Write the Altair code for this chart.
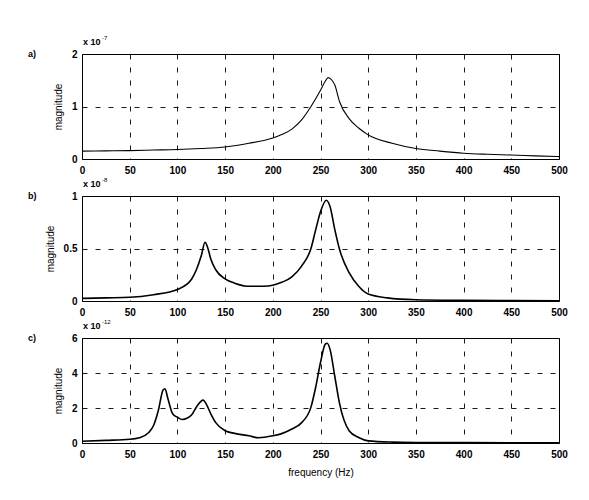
import altair as alt
import pandas as pd

# ---- data ----
freq_a = [0, 25, 50, 75, 100, 125, 150, 175, 200, 210, 220, 230, 240, 250, 255, 258,
          262, 265, 270, 280, 290, 300, 325, 350, 375, 400, 425, 450, 475, 500]
mag_a = [0.15, 0.155, 0.16, 0.17, 0.18, 0.20, 0.23, 0.30, 0.40, 0.47, 0.57, 0.74, 1.0, 1.31, 1.48, 1.55,
         1.50, 1.41, 1.09, 0.77, 0.59, 0.46, 0.30, 0.20, 0.15, 0.11, 0.09, 0.076, 0.06, 0.045]

freq_b = [0, 25, 50, 75, 100, 110, 115, 120, 125, 129, 132, 135, 140, 150, 160, 175, 190,
          200, 210, 220, 230, 240, 245, 250, 256, 260, 265, 270, 280, 290, 300, 320, 350, 400, 450, 500]
mag_b = [0.025, 0.03, 0.035, 0.06, 0.11, 0.16, 0.21, 0.30, 0.43, 0.56, 0.50, 0.40, 0.30, 0.21, 0.17, 0.14, 0.14,
         0.15, 0.18, 0.23, 0.33, 0.50, 0.68, 0.85, 0.96, 0.90, 0.68, 0.49, 0.27, 0.14, 0.066, 0.03, 0.012, 0.006, 0.004, 0.003]

freq_c = [0, 25, 50, 60, 70, 75, 80, 85, 87, 90, 95, 100, 105, 110, 115, 120, 127, 130, 135, 140,
          150, 160, 175, 185, 200, 210, 220, 230, 240, 245, 250, 255, 257, 260, 265, 270, 280, 290,
          300, 325, 350, 400, 500]
mag_c = [0.1, 0.15, 0.21, 0.3, 0.6, 1.0, 1.86, 3.03, 3.1, 2.54, 1.67, 1.47, 1.34, 1.41, 1.61, 2.06, 2.45, 2.25, 1.67, 1.18,
         0.70, 0.55, 0.41, 0.30, 0.41, 0.55, 0.80, 1.15, 2.05, 3.2, 4.6, 5.65, 5.7, 5.35, 3.8, 2.25, 0.70, 0.31,
         0.12, 0.05, 0.03, 0.02, 0.01]

panel_labels = ["a)", "b)", "c)"]
exponents = ["-7", "-8", "-12"]
y_domains = [[0, 2], [0, 1], [0, 6]]
y_ticks = [[0, 1, 2], [0, 0.5, 1], [0, 2, 4, 6]]
x_ticks = [0, 50, 100, 150, 200, 250, 300, 350, 400, 450, 500]
line_widths = [1.1, 1.6, 1.6]

FONT = "Liberation Sans"
GRID = dict(grid=True, gridColor="black", gridDash=[5, 8], gridOpacity=1, gridWidth=0.9,
            domain=False, ticks=False, labelFlush=False, labelFont=FONT, labelFontSize=10,
            labelFontWeight="bold", labelColor="black", titleFont=FONT, titleFontSize=10,
            titleFontWeight="normal", titleColor="black")


def panel(i, f, m, show_xtitle):
    df = pd.DataFrame({"f": f, "m": m})
    if show_xtitle:
        xaxis = alt.Axis(values=x_ticks, title="frequency (Hz)", labelPadding=6, titlePadding=8, **GRID)
    else:
        xaxis = alt.Axis(values=x_ticks, title=None, labelPadding=6, **GRID)
    yaxis = alt.Axis(values=y_ticks[i], title="magnitude", labelExpr="'' + datum.value",
                     labelPadding=5, titlePadding=8, **GRID)
    line = alt.Chart(df).mark_line(color="black", strokeWidth=line_widths[i],
                                   interpolate="monotone").encode(
        x=alt.X("f:Q", scale=alt.Scale(domain=[0, 500], nice=False, zero=False), axis=xaxis),
        y=alt.Y("m:Q", scale=alt.Scale(domain=y_domains[i], nice=False), axis=yaxis),
    )
    lab = alt.Chart(pd.DataFrame({"t": [panel_labels[i]]})).mark_text(
        align="left", baseline="middle", font=FONT, fontSize=9, fontWeight="bold", color="black"
    ).encode(x=alt.value(-54), y=alt.value(0), text="t:N")
    x10 = alt.Chart(pd.DataFrame({"t": ["x 10"]})).mark_text(
        align="left", baseline="middle", font=FONT, fontSize=9, fontWeight="bold", color="black"
    ).encode(x=alt.value(1), y=alt.value(-12), text="t:N")
    ex = alt.Chart(pd.DataFrame({"t": [exponents[i]]})).mark_text(
        align="left", baseline="middle", font=FONT, fontSize=6, color="black"
    ).encode(x=alt.value(20), y=alt.value(-16), text="t:N")
    return alt.layer(line, lab, x10, ex).properties(width=477, height=105)


chart = alt.vconcat(
    panel(0, freq_a, mag_a, False),
    panel(1, freq_b, mag_b, False),
    panel(2, freq_c, mag_c, True),
    spacing=37, bounds="flush",
).properties(
    padding={"left": 27, "top": 34, "right": 10, "bottom": 10},
    background="white",
).configure_view(
    stroke="black", strokeWidth=1
)

chart.save("out.html", embed_options={"renderer": "svg", "actions": False})
